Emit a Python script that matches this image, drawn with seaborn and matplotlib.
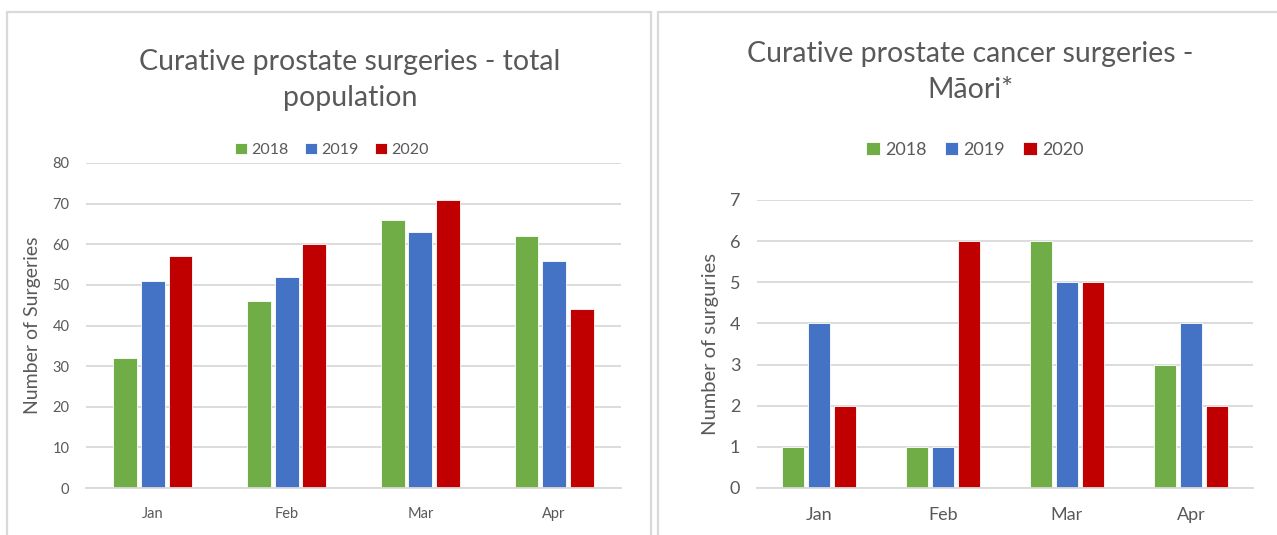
import pandas as pd
import matplotlib.pyplot as plt
import seaborn as sns
from matplotlib.patches import Rectangle

months = ['Jan', 'Feb', 'Mar', 'Apr']
years = ['2018', '2019', '2020']

total_2018 = [32, 46, 66, 62]
total_2019 = [51, 52, 63, 56]
total_2020 = [57, 60, 71, 44]

maori_2018 = [1, 1, 6, 3]
maori_2019 = [4, 1, 5, 4]
maori_2020 = [2, 6, 5, 2]

colors = ['#70AD47', '#4472C4', '#C00000']
txt = '#595959'
grid = '#D9D9D9'


def long_df(a, b, c):
    rows = []
    for yr, vals in zip(years, [a, b, c]):
        for m, v in zip(months, vals):
            rows.append({'month': m, 'year': yr, 'value': v})
    return pd.DataFrame(rows)


df_total = long_df(total_2018, total_2019, total_2020)
df_maori = long_df(maori_2018, maori_2019, maori_2020)

sns.set_style('white')
plt.rcParams['font.family'] = ['Lato', 'DejaVu Sans']

W, H = 1277, 535
fig = plt.figure(figsize=(W / 100, H / 100), dpi=100)

# panel borders
fig.add_artist(Rectangle((7 / W, -0.1), (651 - 7) / W, 1.1 - 12 / H,
                         transform=fig.transFigure, fill=False, ec=grid, lw=1.6))
fig.add_artist(Rectangle((658 / W, -0.1), 0.6, 1.1 - 12 / H,
                         transform=fig.transFigure, fill=False, ec=grid, lw=1.6))


def draw(ax, df, ymax, ylabel, tick_fs, lab_fs, leg_fs, leg_xy):
    sns.barplot(data=df, x='month', y='value', hue='year', palette=colors,
                width=0.62, gap=0.14, ax=ax, edgecolor='white', linewidth=0.6,
                saturation=1)
    ax.set_xlim(-0.5, 3.5)
    ax.set_ylim(0, ymax)
    ax.set_yticks(range(0, ymax + 1, 10 if ymax > 10 else 1))
    ax.yaxis.grid(True, color=grid, lw=1.3)
    ax.set_axisbelow(True)
    for s in ['top', 'right', 'left']:
        ax.spines[s].set_visible(False)
    ax.spines['bottom'].set_color(grid)
    ax.spines['bottom'].set_linewidth(1.3)
    ax.tick_params(length=0, colors=txt, labelsize=tick_fs)
    ax.tick_params(axis='x', pad=14)
    ax.tick_params(axis='y', pad=12)
    ax.set_xlabel('')
    ax.set_ylabel(ylabel, color=txt, fontsize=lab_fs, labelpad=8)
    ax.get_legend().remove()
    h, l = ax.get_legend_handles_labels()
    fig.legend(h, l, loc='center', bbox_to_anchor=leg_xy, ncol=3, frameon=False,
               fontsize=leg_fs, labelcolor=txt, handlelength=0.75, handleheight=0.75,
               handletextpad=0.3, columnspacing=1.0)


ax1 = fig.add_axes([86 / W, 1 - 488 / H, (621 - 86) / W, (488 - 163) / H])
draw(ax1, df_total, 80, 'Number of Surgeries', 10.5, 14, 11.5, (332 / W, 1 - 150 / H))

ax2 = fig.add_axes([757 / W, 1 - 488 / H, (1253 - 757) / W, (488 - 200) / H])
draw(ax2, df_maori, 7, 'Number of surguries', 13, 14.5, 13, (975 / W, 1 - 150 / H))

fig.text(350 / W, 1 - 80 / H, 'Curative prostate surgeries - total\npopulation',
         ha='center', va='center', fontsize=20.5, color=txt,
         linespacing=1.5)
fig.text(970 / W, 1 - 72 / H, 'Curative prostate cancer surgeries -\nMāori*',
         ha='center', va='center', fontsize=20.5, color=txt,
         linespacing=1.5)

fig.savefig('out.png', dpi=100, facecolor='white')
